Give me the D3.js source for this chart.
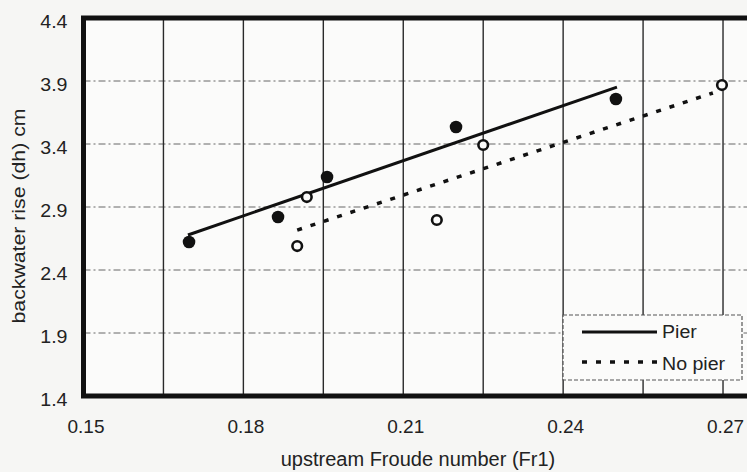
<!DOCTYPE html>
<html>
<head>
<meta charset="utf-8">
<script src="https://cdn.jsdelivr.net/npm/d3@7"></script>
<style>
  html, body { margin: 0; padding: 0; background: #f6f6f4; }
  svg { display: block; }
  text { font-family: "Liberation Sans", Arial, sans-serif; fill: #222; }
</style>
</head>
<body>
<svg id="chart" width="747" height="472"></svg>
<script>
// ---- data ----
const xTickLabels = [0.15, 0.18, 0.21, 0.24, 0.27];
const xGridValues = [0.165, 0.18, 0.195, 0.21, 0.225, 0.24, 0.255, 0.27, 0.285];
const yTickLabels = [1.4, 1.9, 2.4, 2.9, 3.4, 3.9, 4.4];
const yGridValues = [1.9, 2.4, 2.9, 3.4, 3.9];

const pierFr = [0.1698, 0.1865, 0.1957, 0.2199, 0.2499];
const pierDh = [2.622, 2.821, 3.138, 3.535, 3.757];
const noPierFr = [0.1901, 0.1919, 0.2163, 0.2250, 0.2698];
const noPierDh = [2.590, 2.979, 2.797, 3.392, 3.868];

const pierTrendFr = [0.1696, 0.2501];
const pierTrendDh = [2.678, 3.852];
const noPierTrendFr = [0.1901, 0.2681];
const noPierTrendDh = [2.717, 3.805];

const seriesNames = ["Pier", "No pier"];
const xTitle = "upstream Froude number (Fr1)";
const yTitle = "backwater rise (dh) cm";

// ---- layout ----
const svg = d3.select("#chart");
const plotLeft = 83.5, plotTop = 18, plotBottom = 396;
const x = d3.scaleLinear().domain([0.15, 0.27]).range([plotLeft, plotLeft + 8 * 79.94]);
const xMax = 0.285;
const y = d3.scaleLinear().domain([1.4, 4.4]).range([plotBottom, plotTop]);

svg.append("rect").attr("width", 747).attr("height", 472).attr("fill", "#f6f6f4");
svg.append("rect")
  .attr("x", x(0.15)).attr("y", y(4.4))
  .attr("width", x(xMax) - x(0.15)).attr("height", y(1.4) - y(4.4))
  .attr("fill", "#fbfbfa");

// horizontal dashed gridlines
svg.append("g").selectAll("line").data(yGridValues).join("line")
  .attr("x1", x(0.15)).attr("x2", x(xMax))
  .attr("y1", d => y(d)).attr("y2", d => y(d))
  .attr("stroke", "#666").attr("stroke-width", 1)
  .attr("stroke-dasharray", "7,3,2,3");

// vertical solid gridlines
svg.append("g").selectAll("line").data(xGridValues).join("line")
  .attr("x1", d => x(d)).attr("x2", d => x(d))
  .attr("y1", y(4.4)).attr("y2", y(1.4))
  .attr("stroke", "#2a2a2a").attr("stroke-width", 1.4);

// trend lines
const line = d3.line().x(d => x(d[0])).y(d => y(d[1]));
svg.append("path")
  .attr("d", line(d3.zip(pierTrendFr, pierTrendDh)))
  .attr("stroke", "#111").attr("stroke-width", 3).attr("fill", "none");
svg.append("path")
  .attr("d", line(d3.zip(noPierTrendFr, noPierTrendDh)))
  .attr("stroke", "#111").attr("stroke-width", 3.5).attr("fill", "none")
  .attr("stroke-dasharray", "5,9");

// points
svg.append("g").selectAll("circle").data(d3.zip(pierFr, pierDh)).join("circle")
  .attr("cx", d => x(d[0])).attr("cy", d => y(d[1])).attr("r", 6.3)
  .attr("fill", "#111");
svg.append("g").selectAll("circle").data(d3.zip(noPierFr, noPierDh)).join("circle")
  .attr("cx", d => x(d[0])).attr("cy", d => y(d[1])).attr("r", 4.8)
  .attr("fill", "#fbfbfa").attr("stroke", "#111").attr("stroke-width", 2.6);

// frame (right side clipped off)
svg.append("path")
  .attr("d", `M${x(xMax)},${y(4.4)} H${x(0.15)} V${y(1.4)} H${x(xMax)}`)
  .attr("fill", "none").attr("stroke", "#111").attr("stroke-width", 5);

// axes
const xAxis = svg.append("g").attr("transform", `translate(0,${plotBottom})`)
  .call(d3.axisBottom(x).tickValues(xTickLabels).tickSize(0).tickFormat(d3.format(".2f")));
xAxis.select(".domain").remove();
xAxis.selectAll("text")
  .attr("y", 0).attr("dy", 0)
  .attr("transform", "translate(2,37)")
  .style("font-size", "19px").style("fill", "#222");

const yAxis = svg.append("g").attr("transform", `translate(${plotLeft},0)`)
  .call(d3.axisLeft(y).tickValues(yTickLabels).tickSize(0).tickFormat(d3.format(".1f")));
yAxis.select(".domain").remove();
yAxis.selectAll(".tick text")
  .attr("x", 0).attr("dy", 0)
  .attr("transform", "translate(-16,9) scale(1.12,1)")
  .style("font-size", "17.5px").style("fill", "#222");

// axis titles
svg.append("text")
  .attr("x", 418).attr("y", 466)
  .attr("text-anchor", "middle")
  .style("font-size", "20px")
  .text(xTitle);
svg.append("text")
  .attr("transform", "translate(25,216) rotate(-90)")
  .attr("text-anchor", "middle")
  .style("font-size", "19px")
  .attr("textLength", 215).attr("lengthAdjust", "spacingAndGlyphs")
  .text(yTitle);

// legend
const lg = svg.append("g");
lg.append("rect")
  .attr("x", 563).attr("y", 315).attr("width", 179).attr("height", 65)
  .attr("fill", "#fbfbfa").attr("stroke", "#555").attr("stroke-width", 1.2)
  .attr("stroke-dasharray", "4,2");
lg.append("line").attr("x1", 582).attr("x2", 657).attr("y1", 332).attr("y2", 332)
  .attr("stroke", "#111").attr("stroke-width", 3);
lg.append("line").attr("x1", 582).attr("x2", 657).attr("y1", 362).attr("y2", 362)
  .attr("stroke", "#111").attr("stroke-width", 3.5).attr("stroke-dasharray", "5,9");
lg.selectAll("text.lbl").data(seriesNames).join("text")
  .attr("class", "lbl")
  .attr("transform", (d, i) => `translate(662,${338 + i * 32}) scale(1.12,1)`)
  .style("font-size", "17.5px")
  .text(d => d);
</script>
</body>
</html>
